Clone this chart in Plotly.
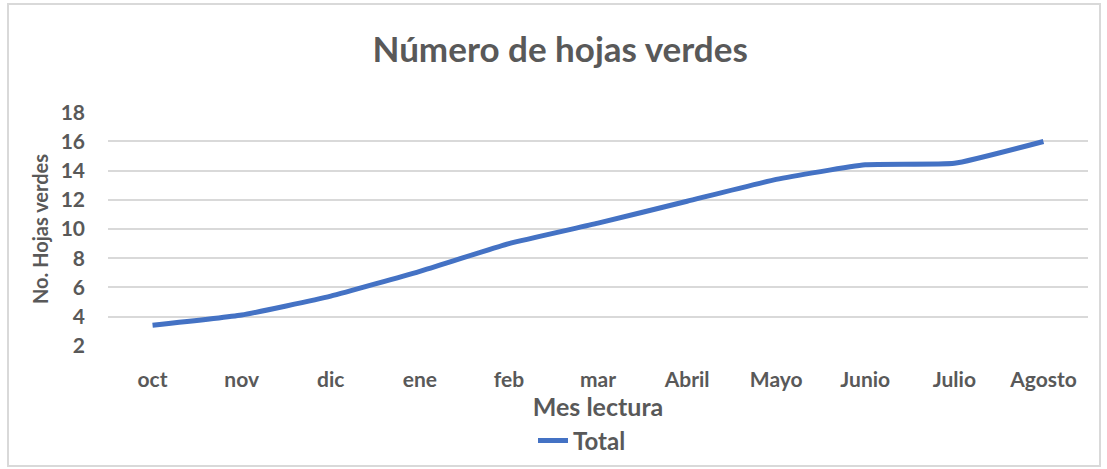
import plotly.graph_objects as go

meses = ["oct", "nov", "dic", "ene", "feb", "mar", "Abril", "Mayo", "Junio", "Julio", "Agosto"]
total = [3.4, 4.1, 5.4, 7.1, 9.0, 10.4, 11.9, 13.4, 14.4, 14.5, 16.0]
y_ticks = [2, 4, 6, 8, 10, 12, 14, 16, 18]

W, H = 1107, 469
L, R, T, B = 108, 19, 112, 123
pw, ph = W - L - R, H - T - B

grey = "#595959"
font_fam = "Lato, 'Open Sans', sans-serif"

fig = go.Figure()
fig.add_trace(go.Scatter(
    x=meses, y=total, mode="lines", name="Total",
    line=dict(color="#4472C4", width=5, shape="spline", smoothing=0.4),
))

fig.update_layout(
    width=W, height=H,
    margin=dict(l=L, r=R, t=T, b=B, autoexpand=False),
    paper_bgcolor="white", plot_bgcolor="white",
    font=dict(family=font_fam, color=grey),
    title=dict(text="Número de hojas verdes", x=0.506, xref="container", xanchor="center",
               y=1 - 50 / H, yref="container", yanchor="middle",
               font=dict(size=35, color=grey, family=font_fam, weight="bold")),
    showlegend=True,
    legend=dict(orientation="h", x=(582 - L) / pw, xanchor="center",
                y=(H - B - 441) / ph, yanchor="middle",
                font=dict(size=24, color=grey, family=font_fam, weight="bold"),
                bgcolor="rgba(0,0,0,0)"),
    xaxis=dict(
        type="category", range=[-0.5, 10.5], showgrid=False, zeroline=False, showline=False,
        tickfont=dict(size=21, color=grey, family=font_fam, weight="bold"),
        ticks="", ticklabelstandoff=19, automargin=False,
        title=dict(text="Mes lectura", font=dict(size=25, color=grey, family=font_fam, weight="bold"),
                   standoff=4),
    ),
    yaxis=dict(
        range=[1.98, 18.02], tickvals=y_ticks, showgrid=True, gridcolor="#d9d9d9", gridwidth=2,
        zeroline=False, showline=False, ticks="", automargin=False,
        tickfont=dict(size=21, color=grey, family=font_fam, weight="bold"),
        ticklabelstandoff=22,
        title=dict(text="No. Hojas verdes", font=dict(size=20, color=grey, family=font_fam, weight="bold"),
                   standoff=6),
    ),
)

fig.add_shape(type="rect", xref="paper", yref="paper",
              x0=(8 - L) / pw, x1=(1100 - L) / pw,
              y0=(H - B - 466) / ph, y1=(H - B - 4) / ph,
              line=dict(color="#d9d9d9", width=2), fillcolor="rgba(0,0,0,0)", layer="below")

fig.write_html("out.html", config={"displayModeBar": False},
               post_script="document.body.style.margin='0';document.body.style.overflow='hidden';")
